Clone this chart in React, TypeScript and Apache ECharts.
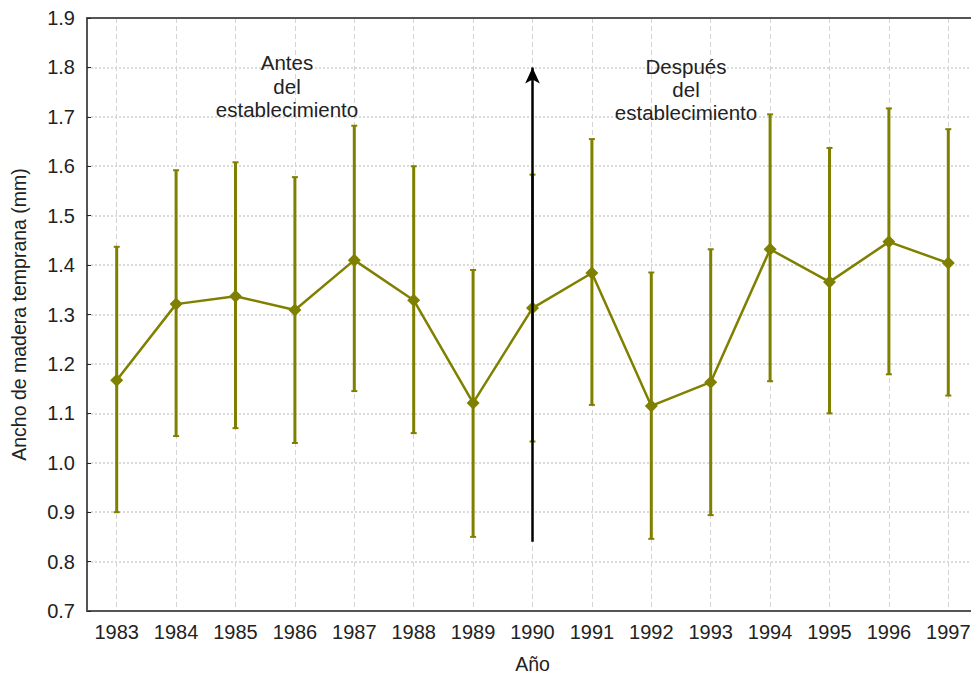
import React, { useEffect, useRef } from "react";
import * as echarts from "echarts";

const years = ["1983","1984","1985","1986","1987","1988","1989","1990","1991","1992","1993","1994","1995","1996","1997"];
const means = [1.167,1.321,1.337,1.309,1.410,1.329,1.121,1.313,1.384,1.115,1.163,1.432,1.366,1.447,1.404];
const upper = [1.437,1.592,1.608,1.578,1.682,1.600,1.390,1.583,1.655,1.385,1.432,1.705,1.637,1.717,1.675];
const lower = [0.900,1.054,1.070,1.040,1.145,1.060,0.850,1.043,1.117,0.846,0.894,1.165,1.100,1.179,1.136];
const arrowYear = "1990";
const arrowFrom = 0.84;
const arrowTo = 1.8;

const OLIVE = "#808000";
const FONT = "Liberation Sans, Arial, sans-serif";

export default function App() {
  const ref = useRef<HTMLDivElement>(null);
  useEffect(() => {
    document.body.style.overflow = "hidden";
    if (!ref.current) return;
    const chart = echarts.init(ref.current, null, { renderer: "svg" });
    const errData = years.map((y, i) => [i, lower[i], upper[i]]);
    chart.setOption({
      animation: false,
      textStyle: { fontFamily: FONT },
      grid: { left: 87, right: 2, top: 18, bottom: 64, show: true, borderColor: "#555", borderWidth: 1.5, backgroundColor: "transparent", outerBoundsMode: "none", containLabel: false },
      xAxis: [
        {
          type: "category",
          data: years,
          boundaryGap: true,
          name: "Año",
          nameLocation: "middle",
          nameGap: 43,
          nameTextStyle: { fontSize: 19.5, color: "#222", fontFamily: FONT },
          axisLine: { lineStyle: { color: "#555", width: 2 } },
          axisTick: { alignWithLabel: true, inside: true, length: 4, lineStyle: { color: "#222" } },
          axisLabel: { fontSize: 20, color: "#222", margin: 11, fontFamily: FONT, interval: 0 },
          splitLine: { show: true, alignWithLabel: true, lineStyle: { color: "#d4d4d4", type: [5, 3], width: 1 } },
        },
        {
          type: "category",
          data: years,
          position: "top",
          boundaryGap: true,
          axisLine: { show: true, lineStyle: { color: "#555", width: 2 } },
          axisTick: { alignWithLabel: true, inside: true, length: 4, lineStyle: { color: "#222" } },
          axisLabel: { show: false },
          splitLine: { show: false },
        },
      ],
      yAxis: {
        type: "value",
        min: 0.7,
        max: 1.9,
        interval: 0.1,
        name: "Ancho de madera temprana (mm)",
        nameLocation: "middle",
        nameGap: 58,
        nameTextStyle: { fontSize: 19.5, color: "#222", fontFamily: FONT },
        axisLine: { show: true, lineStyle: { color: "#555", width: 2 } },
        axisTick: { show: true, inside: true, length: 4, lineStyle: { color: "#222" } },
        axisLabel: { fontSize: 20, color: "#222", margin: 12, fontFamily: FONT, formatter: (v: number) => v.toFixed(1) },
        splitLine: { show: true, lineStyle: { color: "#cfcfcf", type: [2, 2], width: 1.5 } },
      },
      series: [
        {
          type: "custom",
          data: errData,
          z: 3,
          renderItem: (params: any, api: any) => {
            const x = api.value(0);
            const lo = api.coord([x, api.value(1)]);
            const hi = api.coord([x, api.value(2)]);
            const cap = 3;
            const st = { stroke: OLIVE, lineWidth: 3 };
            return {
              type: "group",
              children: [
                { type: "line", shape: { x1: lo[0], y1: lo[1], x2: hi[0], y2: hi[1] }, style: st },
                { type: "line", shape: { x1: hi[0] - cap, y1: hi[1], x2: hi[0] + cap, y2: hi[1] }, style: { stroke: OLIVE, lineWidth: 2 } },
                { type: "line", shape: { x1: lo[0] - cap, y1: lo[1], x2: lo[0] + cap, y2: lo[1] }, style: { stroke: OLIVE, lineWidth: 2 } },
              ],
            };
          },
        },
        {
          type: "line",
          data: means,
          z: 4,
          symbol: "diamond",
          symbolSize: 13,
          itemStyle: { color: OLIVE },
          lineStyle: { color: OLIVE, width: 2.5 },
          markLine: {
            silent: true,
            symbol: ["none", "arrow"],
            symbolSize: [11, 16],
            label: { show: false },
            lineStyle: { color: "#000", width: 2.5, type: "solid" },
            data: [[{ coord: [arrowYear, arrowFrom] }, { coord: [arrowYear, arrowTo] }]],
          },
        },
      ],
      graphic: [
        {
          type: "text",
          x: 287,
          y: 51,
          style: { text: "Antes\ndel\nestablecimiento", fontSize: 20.5, lineHeight: 23.5, fill: "#222", align: "center", verticalAlign: "top", fontFamily: FONT },
          z: 10,
        },
        {
          type: "text",
          x: 686,
          y: 55,
          style: { text: "Después\ndel\nestablecimiento", fontSize: 20.5, lineHeight: 23, fill: "#222", align: "center", verticalAlign: "top", fontFamily: FONT },
          z: 10,
        },
      ],
    });
    return () => chart.dispose();
  }, []);
  return <div ref={ref} style={{ position: "fixed", left: 0, top: 0, width: 980, height: 675, background: "#fff" }} />;
}
